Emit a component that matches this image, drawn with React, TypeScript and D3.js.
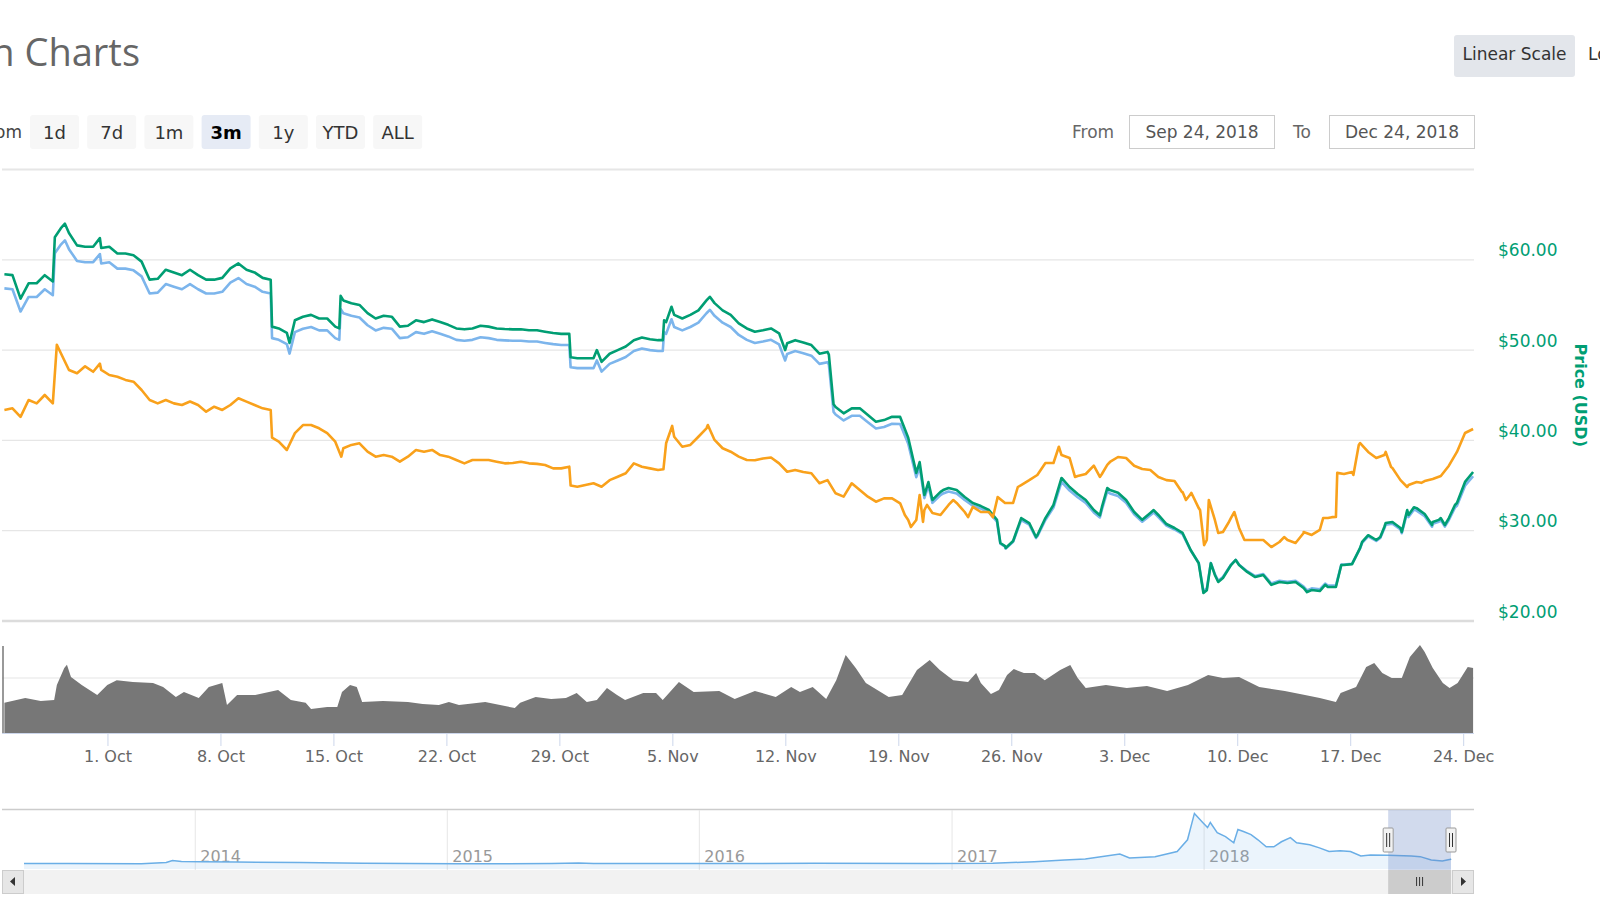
import React from 'react';
import * as d3 from 'd3';

// ---------- data ----------
const START = Date.UTC(2018, 8, 24, 14); // Sep 24, 2018 14:00 UTC
const HOUR = 3600 * 1000;
const SERIES_STEP_H = 12; // regular price samples every 12 hours

// Price (USD), every 12 h
const priceUsd = [
  58.4, 58.3, 55.7, 57.4, 57.4, 58.3, 57.6, 63.5, 62.97, 61.6, 61.45, 61.45, 61.3, 61.45, 60.7, 60.7, 60.5, 59.8, 57.8, 57.9,
  58.9, 58.6, 58.3, 58.9, 58.3, 57.8, 57.8, 58.0, 59.06, 59.6, 58.9, 58.6, 58.0, 57.8, 52.4, 51.9, 53.3, 53.7, 53.9, 53.5,
  53.5, 52.6, 55.5, 55.2, 55.0, 54.1, 53.5, 53.8, 53.7, 52.6, 52.7, 53.3, 53.1, 53.4, 53.1, 52.8, 52.4, 52.3, 52.4, 52.7,
  52.6, 52.4, 52.34, 52.3, 52.3, 52.2, 52.2, 52.04, 51.9, 51.8, 51.8, 49.1, 49.1, 49.1, 48.7, 49.6, 50.0, 50.4, 51.1, 51.4,
  51.2, 51.1, 53.1, 53.9, 53.5, 53.9, 54.4, 55.5, 55.2, 54.4, 53.9, 52.97, 52.4, 52.04, 52.2, 52.4, 51.86, 50.75, 51.1, 50.85,
  50.56, 49.6, 49.8, 43.7, 43.0, 43.55, 43.55, 42.8, 42.07, 42.25, 42.62, 42.6, 40.3, 36.4, 33.95, 33.4, 34.3, 34.73, 34.5, 33.73,
  33.07, 32.73, 32.29, 31.2, 28.3, 28.86, 31.4, 30.85, 29.5, 31.4, 32.85, 35.84, 34.84, 34.06, 33.4, 32.29, 32.6, 34.5, 34.2, 33.4,
  32.07, 31.2, 31.96, 31.74, 30.74, 30.3, 29.75, 27.86, 26.4, 23.4, 25.1, 24.76, 26.2, 26.2, 25.43, 24.87, 25.1, 24.0, 24.32, 24.2,
  24.32, 23.65, 23.43, 23.32, 23.76, 23.76, 26.2, 26.3, 28.1, 29.5, 28.97, 30.41, 30.96, 30.3, 31.74, 32.5, 31.85, 30.96, 31.4, 31.4,
  33.07, 35.4, 36.5,
];
// Price (USD), extra readings between the 12 h samples: [hours since start, value]
const priceUsdExtra: [number, number][] = [
  [75, 62.5], [90, 64.0], [142, 62.4], [398, 52.6], [424, 50.8], [498, 52.4], [500, 56.0], [842, 49.2], [881, 50.0],
  [979, 51.1], [981, 53.3], [992, 54.8], [1049, 55.9], [1161, 50.0], [1226, 49.5], [1233, 44.0],
  [1361, 37.6], [1374, 35.39], [1396, 34.5], [1481, 28.64], [1489, 28.08], [1534, 29.3], [1629, 31.7], [1640, 34.73],
  [1709, 32.29], [1783, 23.1], [1794, 26.4], [1805, 24.32], [1831, 26.76], [1937, 23.2], [1964, 24.0], [1988, 26.2],
  [2019, 28.75], [2046, 29.3], [2054, 30.85], [2078, 29.86], [2086, 32.29], [2096, 32.6], [2123, 30.63], [2133, 31.2],
  [2142, 30.63], [2157, 32.85],
];

// Price (BTC), every 12 h
const priceBtc = [
  0.008674, 0.00871, 0.00852, 0.008894, 0.00882, 0.009006, 0.00882, 0.00993, 0.00956, 0.009486, 0.00964, 0.00952, 0.00956, 0.009448, 0.00941, 0.00934, 0.0093, 0.009116, 0.008894, 0.00882,
  0.008894, 0.00882, 0.008784, 0.00886, 0.008784, 0.008636, 0.008746, 0.008674, 0.008784, 0.008932, 0.008858, 0.008784, 0.00871, 0.008674, 0.007972, 0.007788, 0.00816, 0.00834, 0.00834, 0.008268,
  0.00816, 0.007972, 0.007826, 0.0079, 0.007936, 0.00775, 0.00764, 0.007676, 0.00764, 0.007528, 0.00764, 0.007788, 0.00775, 0.007788, 0.007676, 0.00764, 0.007566, 0.007492, 0.007566, 0.007566,
  0.007566, 0.007528, 0.007492, 0.0075, 0.007528, 0.007492, 0.00748, 0.007454, 0.00738, 0.00738, 0.007418, 0.006974, 0.007012, 0.00705, 0.006974, 0.00712, 0.007196, 0.007272, 0.007492, 0.007418,
  0.00738, 0.007344, 0.007936, 0.00808, 0.00786, 0.0079, 0.00808, 0.008268, 0.00801, 0.007826, 0.00775, 0.00764, 0.007566, 0.00756, 0.0076, 0.00762, 0.007492, 0.007306, 0.007344, 0.0073,
  0.007272, 0.00705, 0.00712, 0.006828, 0.006754, 0.00705, 0.0069, 0.006754, 0.006642, 0.006716, 0.006716, 0.006606, 0.006238, 0.006238, 0.006458, 0.006392, 0.006348, 0.00657, 0.006614, 0.006414,
  0.006526, 0.006414, 0.006414, 0.00668, 0.006614, 0.006614, 0.007012, 0.00712, 0.007234, 0.0075, 0.0075, 0.007676, 0.00761, 0.007212, 0.007256, 0.00744, 0.007256, 0.007522, 0.007632, 0.00761,
  0.00744, 0.007366, 0.007344, 0.00719, 0.00712, 0.0071, 0.006856, 0.006812, 0.0065, 0.005794, 0.006238, 0.005972, 0.006282, 0.00606, 0.005794, 0.005794, 0.005794, 0.005638, 0.00575, 0.005794,
  0.005728, 0.00595, 0.005906, 0.006016, 0.006282, 0.006304, 0.007256, 0.0073, 0.007942, 0.007744, 0.00761, 0.007676, 0.007388, 0.00712, 0.007012, 0.007078, 0.0071, 0.007146, 0.007212, 0.00744,
  0.007744, 0.008164, 0.008252,
];
// Price (BTC), extra readings: [hours since start, value]
const priceBtcExtra: [number, number][] = [
  [78, 0.01012], [142, 0.0097], [398, 0.00806], [501, 0.00764], [842, 0.007], [980, 0.00736], [993, 0.00832], [1046, 0.00834],
  [1339, 0.006348], [1348, 0.006082], [1361, 0.00679], [1366, 0.006194], [1372, 0.00657], [1411, 0.00668], [1433, 0.0063],
  [1470, 0.0063], [1477, 0.006746], [1507, 0.006968], [1568, 0.00786], [1592, 0.00719], [1629, 0.00719], [1640, 0.00746],
  [1751, 0.006856], [1757, 0.00668], [1765, 0.00684], [1778, 0.006458], [1784, 0.00568], [1791, 0.00668], [1805, 0.00595],
  [1820, 0.00617], [1829, 0.006414], [1844, 0.005794], [1903, 0.00586], [1932, 0.005972], [1961, 0.00628], [1974, 0.0063],
  [1982, 0.00728], [2006, 0.007234], [2014, 0.0079], [2054, 0.007744], [2062, 0.00741], [2086, 0.006968], [2107, 0.00706],
];

// 24h Vol (millions USD): reading times (hours since start) and values
const volumeHours = [
  0, 31, 54, 74, 78, 89, 93, 99, 115, 138, 153, 167, 191, 221, 236, 255, 267, 289, 304, 324,
  331, 346, 373, 407, 426, 448, 456, 480, 495, 502, 514, 524, 532, 563, 600, 622, 646, 661, 676, 715,
  759, 767, 790, 813, 835, 851, 866, 881, 896, 911, 923, 950, 969, 979, 1003, 1025, 1063, 1086, 1116, 1147,
  1170, 1183, 1202, 1222, 1237, 1251, 1266, 1281, 1298, 1315, 1335, 1357, 1376, 1391, 1411, 1433, 1445, 1452, 1467, 1479,
  1491, 1501, 1516, 1532, 1547, 1570, 1585, 1596, 1608, 1638, 1669, 1699, 1729, 1760, 1790, 1812, 1836, 1866, 1904, 1934,
  1956, 1980, 1987, 2010, 2025, 2037, 2049, 2063, 2078, 2090, 2105, 2112, 2124, 2139, 2149, 2161, 2176, 2184,
];
const volumeValues = [
  275, 318, 290, 300, 436, 590, 620, 510, 436, 345, 436, 480, 463, 454, 418, 327, 373, 318, 418, 454,
  254, 345, 345, 390, 300, 275, 218, 236, 236, 373, 436, 418, 282, 290, 282, 263, 254, 282, 254, 282,
  227, 275, 327, 309, 318, 364, 282, 300, 409, 345, 300, 364, 364, 300, 463, 373, 382, 309, 382, 327,
  418, 373, 418, 309, 480, 710, 590, 454, 390, 327, 345, 572, 663, 572, 480, 463, 545, 454, 354, 390,
  527, 581, 545, 545, 480, 572, 618, 500, 409, 436, 409, 427, 382, 436, 527, 500, 510, 418, 382, 345,
  318, 282, 364, 418, 600, 636, 545, 500, 500, 690, 800, 736, 590, 454, 409, 454, 600, 590,
];

// navigator (all-time price, USD)
const navDates = [
  '2013-04-28', '2013-07-01', '2013-10-15', '2013-11-20', '2013-11-29', '2013-12-12', '2014-01-10', '2014-03-01', '2014-06-01', '2014-09-01',
  '2015-01-15', '2015-06-01', '2015-07-10', '2015-08-01', '2016-01-01', '2016-06-15', '2016-12-01', '2017-03-01', '2017-04-30', '2017-06-13',
  '2017-07-13', '2017-09-01', '2017-09-15', '2017-10-22', '2017-11-23', '2017-12-08', '2017-12-18', '2017-12-30', '2018-01-06', '2018-01-10',
  '2018-01-20', '2018-02-01', '2018-02-13', '2018-02-19', '2018-02-27', '2018-03-10', '2018-03-20', '2018-04-01', '2018-04-12', '2018-04-23',
  '2018-05-06', '2018-05-15', '2018-06-03', '2018-06-17', '2018-07-01', '2018-07-17', '2018-08-01', '2018-08-16', '2018-08-30', '2018-09-24',
  '2018-10-28', '2018-11-10', '2018-11-26', '2018-12-12', '2018-12-24',
];
const navPrices = [
  4, 3, 2.5, 10, 25, 18, 16, 14, 10, 5,
  2, 3, 7, 4, 3.5, 4.5, 3.6, 4.5, 16, 28,
  35, 71, 43, 52, 88, 171, 357, 293, 257, 293,
  221, 193, 150, 243, 229, 207, 171, 121, 121, 157,
  186, 150, 136, 114, 88, 93, 88, 57, 64, 62,
  57, 52, 29, 21, 33,
];

const rangeButtons = ['1d', '7d', '1m', '3m', '1y', 'YTD', 'ALL'];
const selectedRange = '3m';
const usdTicks = [20, 30, 40, 50, 60];
const navYears = [2014, 2015, 2016, 2017, 2018];
const fromLabel = 'Sep 24, 2018';
const toLabel = 'Dec 24, 2018';

// ---------- styles ----------
const FONT = "'DejaVu Sans', Verdana, sans-serif";
const TITLE_FONT = "'Open Sans', 'DejaVu Sans', sans-serif";
const GREEN = '#009e73';
const BLUE = '#7cb5ec';
const ORANGE = '#f9a11b';

type Pt = [Date, number];
function buildSeries(grid: number[], extra: [number, number][]): Pt[] {
  const rows: [number, number][] = grid.map((v, i) => [i * SERIES_STEP_H, v] as [number, number]).concat(extra);
  rows.sort((a, b) => a[0] - b[0]);
  return rows.map(([h, v]) => [new Date(START + h * HOUR), v] as Pt);
}

export default function App() {
  const W = 1600;
  const H = 900;
  const end = START + 91 * 24 * HOUR;

  const x = d3.scaleUtc().domain([new Date(START), new Date(end)]).range([4.4, 1473.1]);
  const yUsd = d3.scaleLinear().domain([20, 70]).range([621, 169.5]);
  const yCap = d3.scaleLinear().domain([19.63, 61.73]).range([621, 259.8]); // hidden market-cap axis
  const yBtc = d3.scaleLinear().domain([0.004, 0.012]).range([621, 259.8]); // hidden BTC axis
  const yVol = d3.scaleLinear().domain([0, 800]).range([733, 645]);

  const usdPts = buildSeries(priceUsd, priceUsdExtra);
  const btcPts = buildSeries(priceBtc, priceBtcExtra);
  const volPts: Pt[] = volumeHours.map((h, i) => [new Date(START + h * HOUR), volumeValues[i]] as Pt);

  const lineUsd = d3.line<Pt>().x((d) => x(d[0])).y((d) => yUsd(d[1]));
  const lineCap = d3.line<Pt>().x((d) => x(d[0])).y((d) => yCap(d[1]));
  const lineBtc = d3.line<Pt>().x((d) => x(d[0])).y((d) => yBtc(d[1]));
  const areaVol = d3
    .area<Pt>()
    .x((d) => x(d[0]))
    .y0(yVol(0))
    .y1((d) => yVol(d[1]));

  const xTicks = d3.utcMonday.range(new Date(START), new Date(end));
  const fmt = d3.utcFormat('%-d. %b');

  // navigator
  const navParsed = navDates.map((d) => new Date(d + 'T00:00:00Z'));
  const xNav = d3.scaleUtc().domain([navParsed[0], new Date(end)]).range([24, 1451]);
  const yNav = d3.scaleLinear().domain([0, 360]).range([864, 813]);
  const navPts = navParsed.map((d, i) => [d, navPrices[i]] as Pt);
  navPts.push([new Date(end), priceUsd[priceUsd.length - 1]]);
  const navLine = d3.line<Pt>().x((d) => xNav(d[0])).y((d) => yNav(d[1]));
  const navArea = d3
    .area<Pt>()
    .x((d) => xNav(d[0]))
    .y0(869)
    .y1((d) => yNav(d[1]));
  const maskL = xNav(new Date(START));
  const maskR = xNav(new Date(end));

  return (
    <svg
      width={W}
      height={H}
      style={{ position: 'fixed', left: 0, top: 0, background: '#fff' }}
      fontFamily={FONT}
    >
      <rect x={0} y={0} width={W} height={H} fill="#fff" />
      {/* title */}
      <text x={140} y={66} textAnchor="end" fontSize={38} fill="#666" fontFamily={TITLE_FONT}>
        Litecoin Charts
      </text>
      {/* scale buttons */}
      <rect x={1454} y={35} width={121} height={42} rx={3} fill="#e3e6eb" />
      <text x={1514.5} y={60} textAnchor="middle" fontSize={17} fill="#333">
        Linear Scale
      </text>
      <text x={1588} y={60} fontSize={17} fill="#333">
        Logarithmic Scale
      </text>

      {/* range selector */}
      <text x={22} y={138} textAnchor="end" fontSize={17} fill="#444">
        Zoom
      </text>
      {rangeButtons.map((b, i) => {
        const bx = 30 + i * 57.2;
        const sel = b === selectedRange;
        return (
          <g key={b}>
            <rect x={bx} y={115} width={49} height={34} rx={3} fill={sel ? '#e6ebf5' : '#f7f7f7'} />
            <text
              x={bx + 24.5}
              y={138.5}
              textAnchor="middle"
              fontSize={18}
              fontWeight={sel ? 'bold' : 'normal'}
              fill={sel ? '#000' : '#333'}
            >
              {b}
            </text>
          </g>
        );
      })}
      <text x={1072} y={138} fontSize={17} fill="#666">
        From
      </text>
      <rect x={1129.5} y={115.5} width={145} height={33} fill="#fff" stroke="#ccc" />
      <text x={1202} y={138} textAnchor="middle" fontSize={17} fill="#555">
        {fromLabel}
      </text>
      <text x={1293} y={138} fontSize={17} fill="#666">
        To
      </text>
      <text x={1402} y={138} textAnchor="middle" fontSize={17} fill="#555">
        {toLabel}
      </text>
      <rect x={1329.5} y={115.5} width={145} height={33} fill="none" stroke="#ccc" />

      {/* price grid */}
      <line x1={2} x2={1474} y1={yUsd(70)} y2={yUsd(70)} stroke="#e6e6e6" strokeWidth={2} />
      {usdTicks.map((t) => (
        <g key={t}>
          <line
            x1={2}
            x2={1474}
            y1={yUsd(t)}
            y2={yUsd(t)}
            stroke={t === 20 ? '#dcdcdc' : '#e6e6e6'}
            strokeWidth={t === 20 ? 2.5 : 1.2}
          />
          <text x={1498} y={yUsd(t) - 3.5} fontSize={17} fill={GREEN}>
            {'$' + t.toFixed(2)}
          </text>
        </g>
      ))}
      <text
        transform={`translate(1575, ${(yUsd(70) + yUsd(20)) / 2}) rotate(90)`}
        textAnchor="middle"
        fontSize={16}
        fontWeight="bold"
        fill={GREEN}
      >
        Price (USD)
      </text>

      {/* series */}
      <path d={lineCap(usdPts) || ''} fill="none" stroke={BLUE} strokeWidth={2.6} strokeLinejoin="round" />
      <path d={lineUsd(usdPts) || ''} fill="none" stroke={GREEN} strokeWidth={2.6} strokeLinejoin="round" />
      <path d={lineBtc(btcPts) || ''} fill="none" stroke={ORANGE} strokeWidth={2.6} strokeLinejoin="round" />

      {/* volume pane */}
      <line x1={2} x2={1474} y1={yVol(500)} y2={yVol(500)} stroke="#e6e6e6" strokeWidth={1.2} />
      <path d={areaVol(volPts) || ''} fill="#777" />
      <line x1={3} x2={3} y1={646} y2={733} stroke="#777" strokeWidth={1.5} />
      <line x1={2} x2={1474} y1={733.5} y2={733.5} stroke="#ccd6eb" />
      {xTicks.map((t) => (
        <g key={t.getTime()}>
          <line x1={x(t)} x2={x(t)} y1={734} y2={746} stroke="#ccd6eb" />
          <text x={x(t)} y={762} textAnchor="middle" fontSize={16} fill="#666">
            {fmt(t)}
          </text>
        </g>
      ))}

      {/* navigator */}
      <line x1={2} x2={1474} y1={809.5} y2={809.5} stroke="#ccc" strokeWidth={1.5} />
      {navYears.map((yr) => {
        const xx = xNav(new Date(Date.UTC(yr, 0, 1)));
        return (
          <g key={yr}>
            <line x1={xx} x2={xx} y1={810} y2={870} stroke="#e6e6e6" />
            <text x={xx + 5} y={862} fontSize={16} fill="#999">
              {yr}
            </text>
          </g>
        );
      })}
      <path d={navArea(navPts) || ''} fill={BLUE} fillOpacity={0.15} />
      <path d={navLine(navPts) || ''} fill="none" stroke="#6aaee6" strokeWidth={1.5} />
      <rect x={maskL} y={810} width={maskR - maskL} height={60} fill="rgba(102,133,194,0.3)" />
      {[maskL, maskR].map((hx, i) => (
        <g key={i}>
          <rect x={hx - 5} y={828} width={10} height={24} rx={1} fill="#f2f2f2" stroke="#999" />
          <line x1={hx - 1.5} x2={hx - 1.5} y1={833} y2={847} stroke="#333" />
          <line x1={hx + 1.5} x2={hx + 1.5} y1={833} y2={847} stroke="#333" />
        </g>
      ))}

      {/* scrollbar */}
      <rect x={2} y={870} width={1472} height={24} fill="#f2f2f2" />
      <rect x={maskL} y={870} width={maskR - maskL} height={24} fill="#ccc" />
      {[-3, 0, 3].map((d) => (
        <line
          key={d}
          x1={(maskL + maskR) / 2 + d}
          x2={(maskL + maskR) / 2 + d}
          y1={877}
          y2={886}
          stroke="#333"
        />
      ))}
      <rect x={2.5} y={870.5} width={21} height={23} fill="#e6e6e6" stroke="#ccc" />
      <path d="M15,877 L10,881.5 L15,886 Z" fill="#333" />
      <rect x={1452.5} y={870.5} width={21} height={23} fill="#e6e6e6" stroke="#ccc" />
      <path d="M1461,877 L1466,881.5 L1461,886 Z" fill="#333" />
    </svg>
  );
}
